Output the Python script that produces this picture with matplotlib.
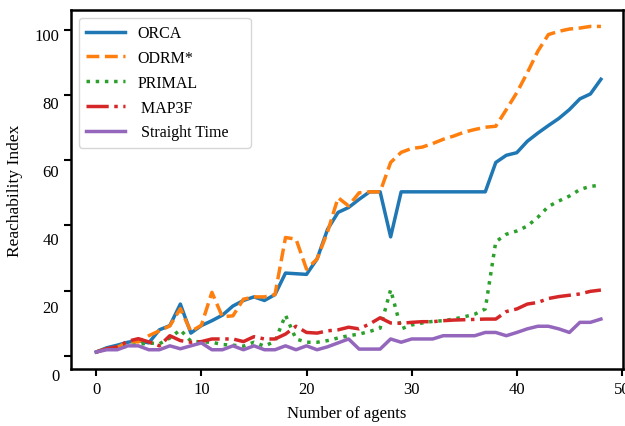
import numpy as np
import matplotlib
matplotlib.use('Agg')
import matplotlib.pyplot as plt
import matplotlib.transforms as mtransforms

plt.rcParams['font.family'] = ['Liberation Serif', 'DejaVu Serif']

# Data
agents = list(range(49))
orca = [1.2, 2.5, 3.3, 4.2, 4.7, 4.0, 8.0, 9.3, 15.9, 7.0, 9.3, 10.8, 12.5, 15.3, 17.0, 18.1,
        17.0, 18.8, 25.4, 25.2, 25.0, 29.7, 38.8, 44.0, 45.5, 48.0, 50.3, 50.3, 36.5, 50.3, 50.3,
        50.3, 50.3, 50.3, 50.3, 50.3, 50.3, 50.3, 59.3, 61.5, 62.3, 65.8, 68.3, 70.6, 72.8, 75.5,
        78.8, 80.3, 84.8]
odrm = [1.2, 2.2, 2.6, 4.3, 4.3, 6.2, 7.7, 9.2, 14.5, 7.5, 9.4, 19.5, 12.0, 12.3, 17.4, 18.1,
        18.1, 18.8, 36.3, 35.8, 26.6, 29.7, 38.0, 48.5, 46.0, 50.0, 50.3, 50.3, 59.3, 62.4, 63.6,
        64.0, 65.1, 66.4, 67.4, 68.6, 69.4, 70.1, 70.4, 75.5, 80.7, 86.8, 93.4, 98.5, 99.5, 100.2,
        100.5, 101.0, 101.0]
primal = [1.2, 2.2, 2.5, 3.0, 3.5, 4.0, 3.7, 5.5, 8.0, 4.5, 4.3, 4.2, 3.5, 3.3, 3.0, 4.2,
          3.0, 4.5, 12.5, 5.2, 4.2, 4.2, 4.7, 5.5, 6.2, 6.7, 7.5, 8.5, 20.3, 8.3, 9.5,
          10.1, 10.6, 10.8, 11.3, 12.0, 12.8, 14.4, 35.0, 37.3, 38.3, 39.8, 42.5, 45.8, 47.5, 49.0,
          51.0, 52.0, 52.3]
map3f = [1.2, 2.2, 2.8, 4.5, 5.3, 4.3, 3.1, 6.2, 4.7, 4.2, 4.4, 5.2, 5.2, 5.2, 4.4, 5.9,
         5.2, 5.2, 6.7, 9.1, 7.2, 7.0, 7.7, 8.0, 8.8, 8.3, 9.8, 11.7, 10.1, 10.0, 10.3,
         10.5, 10.5, 10.8, 11.0, 11.1, 11.2, 11.3, 11.3, 13.6, 14.4, 15.9, 16.4, 17.6, 18.2, 18.6,
         19.0, 19.8, 20.2]
straight = [1.2, 1.9, 1.9, 3.1, 3.1, 1.9, 1.9, 3.1, 2.2, 3.1, 4.0, 1.9, 1.9, 3.1, 1.9, 3.1,
            1.9, 1.9, 3.1, 1.9, 3.1, 1.9, 2.8, 4.0, 5.2, 2.1, 2.1, 2.1, 5.2, 4.2, 5.2,
            5.2, 5.2, 6.2, 6.2, 6.2, 6.2, 7.2, 7.2, 6.2, 7.2, 8.3, 9.1, 9.1, 8.3, 7.2,
            10.3, 10.3, 11.3]

x_ticks = [0, 10, 20, 30, 40, 50]
y_ticks = [0, 20, 40, 60, 80, 100]

fig = plt.figure(figsize=(6.25, 4.27), dpi=100)
ax = fig.add_axes([0.1136, 0.1335, 0.8832, 0.8405])

lw = 2.5
ax.plot(agents, orca, color='tab:blue', linestyle='-', linewidth=lw, label='ORCA')
ax.plot(agents, odrm, color='tab:orange', linestyle='--', linewidth=lw, label='ODRM*')
ax.plot(agents, primal, color='tab:green', linestyle=':', linewidth=lw, label='PRIMAL')
ax.plot(agents, map3f, color='tab:red', linestyle='-.', linewidth=lw, label=' MAP3F')
ax.plot(agents, straight, color='tab:purple', linestyle='-', linewidth=lw, label=' Straight Time')

ax.set_xlim(-2.4, 50.1)
ax.set_ylim(-4, 106)
ax.set_xticks(x_ticks)
ax.set_yticks(y_ticks)
ax.tick_params(labelsize=12, width=1.5, length=5)
for s in ax.spines.values():
    s.set_linewidth(1.8)

# y tick labels sit a bit lower than their ticks in the reference
for lab, v in zip(ax.get_yticklabels(), y_ticks):
    dy = -(4 + (100 - v) * 0.14) / 100.0
    lab.set_transform(lab.get_transform() + mtransforms.ScaledTranslation(0, dy, fig.dpi_scale_trans))

ax.set_xlabel('Number of agents', fontsize=12, labelpad=6)
ax.set_ylabel('Reachability Index', fontsize=12.5, labelpad=8)

ax.legend(loc='upper left', bbox_to_anchor=(0, 0, 0.34, 1), mode='expand',
          fontsize=11.5, handlelength=2.4, labelspacing=0.55, borderpad=0.45,
          handletextpad=0.8, framealpha=0.8)

fig.savefig('out.png', dpi=100)
